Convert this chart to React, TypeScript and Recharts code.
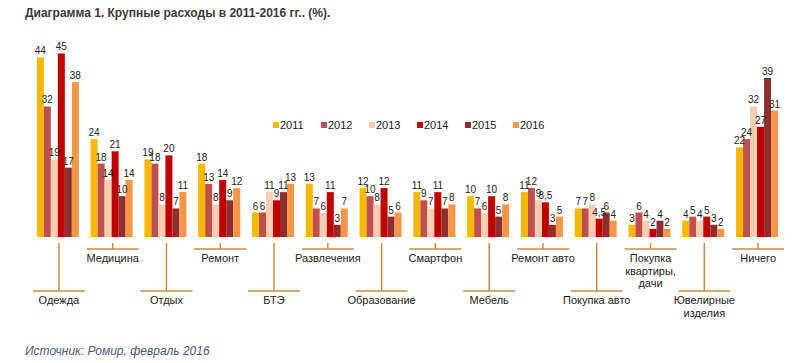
import { BarChart, Bar, XAxis, YAxis, LabelList } from 'recharts';

const categories = [
  'Одежда',
  'Медицина',
  'Отдых',
  'Ремонт',
  'БТЭ',
  'Развлечения',
  'Образование',
  'Смартфон',
  'Мебель',
  'Ремонт авто',
  'Покупка авто',
  'Покупка|квартиры,|дачи',
  'Ювелирные|изделия',
  'Ничего',
];

const years = ['2011', '2012', '2013', '2014', '2015', '2016'];

const v2011 = [44, 24, 19, 18, 6, 13, 12, 11, 10, 11, 7, 3, 4, 22];
const v2012 = [32, 18, 18, 13, 6, 7, 10, 9, 7, 12, 7, 6, 5, 24];
const v2013 = [19, 14, 8, 8, 11, 6, 8, 7, 6, 9, 8, 4, 4, 32];
const v2014 = [45, 21, 20, 14, 9, 11, 12, 11, 10, 8.5, 4.5, 2, 5, 27];
const v2015 = [17, 10, 7, 9, 11, 3, 5, 7, 5, 3, 6, 4, 3, 39];
const v2016 = [38, 14, 11, 12, 13, 7, 6, 8, 8, 5, 4, 2, 2, 31];

const series = [v2011, v2012, v2013, v2014, v2015, v2016];
const colors = ['#F6B800', '#C0504D', '#F9CDB0', '#C00000', '#8E2F2F', '#F79646'];

const data = categories.map((name, i) => {
  const row: Record<string, string | number> = { name };
  years.forEach((y, k) => {
    row[y] = series[k][i];
  });
  return row;
});

const LINE = '#C98B4A';
const BASE_Y = 237;

function CategoryTick(props: any) {
  const { x, payload, index } = props;
  const low = index % 2 === 0;
  const lines = String(payload.value).split('|');
  const hy = low ? BASE_Y + 54 : BASE_Y + 12;
  const ty = low ? BASE_Y + 67 : BASE_Y + 25;
  return (
    <g>
      <line x1={x} x2={x} y1={BASE_Y + 6} y2={hy} stroke={LINE} strokeWidth={1.5} />
      <line x1={x - 26} x2={x + 26} y1={hy} y2={hy} stroke={LINE} strokeWidth={1.5} />
      {lines.map((l, k) => (
        <text
          key={k}
          x={x}
          y={ty + k * 12.5}
          textAnchor="middle"
          fontSize={11}
          fill="#222"
          fontFamily="Liberation Sans, Arial, sans-serif"
        >
          {l}
        </text>
      ))}
    </g>
  );
}

const fmt = (v: any) => String(v).replace('.', ',');

export default function App() {
  return (
    <div
      style={{
        position: 'absolute',
        left: 0,
        top: 0,
        width: 800,
        height: 363,
        background: '#fff',
        fontFamily: 'Liberation Sans, Arial, sans-serif',
      }}
    >
      <div
        style={{
          position: 'absolute',
          left: 25,
          top: 6,
          fontSize: 12,
          fontWeight: 'bold',
          color: '#3a3a3a',
        }}
      >
        Диаграмма 1. Крупные расходы в 2011-2016 гг.. (%).
      </div>
      <BarChart
        width={800}
        height={363}
        data={data}
        margin={{ top: 33, right: 15, left: 32, bottom: 0 }}
        barCategoryGap="9%"
        barGap={0}
      >
        <YAxis hide domain={[0, 50]} />
        <XAxis
          dataKey="name"
          interval={0}
          height={126}
          tickSize={0}
          tickMargin={0}
          axisLine={false}
          tickLine={false}
          tick={<CategoryTick />}
        />
        {years.map((y, k) => (
          <Bar key={y} dataKey={y} fill={colors[k]} isAnimationActive={false}>
            <LabelList
              dataKey={y}
              position="top"
              offset={3}
              formatter={fmt}
              style={{ fontSize: 10, fill: '#222', fontFamily: 'Liberation Sans, Arial, sans-serif' }}
            />
          </Bar>
        ))}
      </BarChart>
      <div style={{ position: 'absolute', left: 273, top: 119, display: 'flex' }}>
        {years.map((y, k) => (
          <div
            key={y}
            style={{ display: 'flex', alignItems: 'center', width: 48, fontSize: 11, color: '#222' }}
          >
            <span style={{ width: 6, height: 6, background: colors[k], marginRight: 1 }} />
            {y}
          </div>
        ))}
      </div>
      <div
        style={{
          position: 'absolute',
          left: 25,
          top: 344,
          fontSize: 12,
          fontStyle: 'italic',
          color: '#4a5a78',
        }}
      >
        Источник: Ромир, февраль 2016
      </div>
    </div>
  );
}
